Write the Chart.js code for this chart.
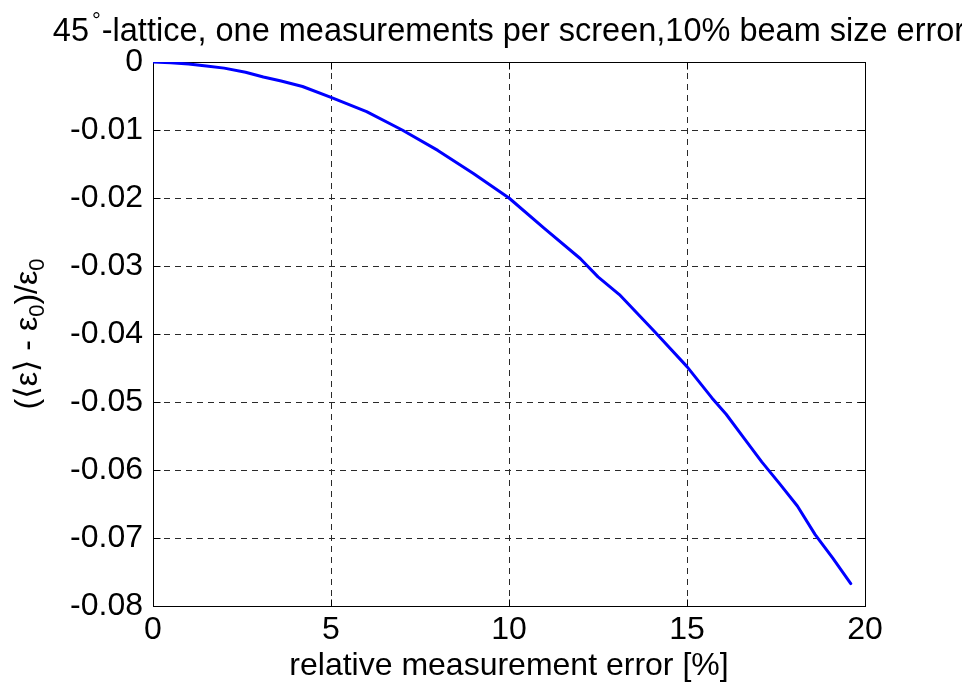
<!DOCTYPE html>
<html>
<head>
<meta charset="utf-8">
<script src="https://cdn.jsdelivr.net/npm/chart.js@4/dist/chart.umd.min.js"></script>
<style>
  html, body { margin: 0; padding: 0; background: #fff; }
  #wrap { width: 962px; height: 682px; }
</style>
</head>
<body>
<div id="wrap"><canvas id="plot" width="962" height="682"></canvas></div>
<script>
// Relative measurement error [%]
const errorPercent = [0, 0.5, 1, 1.5, 2, 2.6, 3.1, 3.6, 4.2, 5, 6, 7, 8, 9, 10, 11, 12, 12.5, 13.1, 14.1,
                      15, 15.7, 16.1, 16.6, 17.1, 17.6, 18.1, 18.6, 19.1, 19.6];
// Relative emittance bias (<eps> - eps0) / eps0
const emittanceBias = [0, -0.0001, -0.0003, -0.0006, -0.0009, -0.0015, -0.0022, -0.0028, -0.0036, -0.0052,
                       -0.0073, -0.0100, -0.0130, -0.0164, -0.0200, -0.0245, -0.0289, -0.0316, -0.0342, -0.0397,
                       -0.0448, -0.0494, -0.0518, -0.0553, -0.0588, -0.0620, -0.0653, -0.0695, -0.0730, -0.0767];

const xTicks = [0, 5, 10, 15, 20];
const xTickLabels = ['0', '5', '10', '15', '20'];
const yTicks = [0, -0.01, -0.02, -0.03, -0.04, -0.05, -0.06, -0.07, -0.08];
const yTickLabels = ['0', '-0.01', '-0.02', '-0.03', '-0.04', '-0.05', '-0.06', '-0.07', '-0.08'];

const titleParts = [
  { t: '45' },
  { t: '°', sup: true },
  { t: '-lattice, one measurements per screen,10% beam size error' }
];
const xLabelParts = [{ t: 'relative measurement error [%]' }];
const yLabelParts = [
  { t: '(⟨ε⟩ - ε' }, { t: '0', sub: true }, { t: ')/ε' }, { t: '0', sub: true }
];

const FONT = "'Liberation Sans', Arial, 'DejaVu Sans', sans-serif";
const FS = 32;        // tick and axis label size
const TITLE_FS = 32.5;

function partFont(p, size) {
  return (p.sup || p.sub) ? `${Math.round(size * 0.68)}px ${FONT}` : `${size}px ${FONT}`;
}
function richWidth(ctx, parts, size) {
  let w = 0;
  for (const p of parts) {
    ctx.font = partFont(p, size);
    w += ctx.measureText(p.t).width + (p.sup ? 4 : 0);
  }
  return w;
}
function drawRich(ctx, parts, cx, baseY, size) {
  let x = cx - richWidth(ctx, parts, size) / 2;
  ctx.textBaseline = 'alphabetic';
  ctx.textAlign = 'left';
  ctx.fillStyle = '#000';
  for (const p of parts) {
    ctx.font = partFont(p, size);
    let dy = 0;
    if (p.sup) { x += 3; dy = -13; }
    if (p.sub) { dy = 7; }
    ctx.fillText(p.t, x, baseY + dy);
    x += ctx.measureText(p.t).width + (p.sup ? 1 : 0);
  }
}

// Axes frame: dashed grid, solid box, inward ticks, title and axis labels
const framePlugin = {
  id: 'frame',
  beforeDatasetsDraw(chart) {
    const { ctx, chartArea: a, scales: { x, y } } = chart;
    ctx.save();
    ctx.strokeStyle = '#2a2a2a';
    ctx.lineWidth = 1;
    ctx.setLineDash([6, 5]);
    xTicks.forEach((v, i) => {
      if (i === 0 || i === xTicks.length - 1) return;
      const px = Math.round(x.getPixelForValue(v)) + 0.5;
      ctx.beginPath(); ctx.moveTo(px, a.top); ctx.lineTo(px, a.bottom); ctx.stroke();
    });
    yTicks.forEach((v, i) => {
      if (i === 0 || i === yTicks.length - 1) return;
      const py = Math.round(y.getPixelForValue(v)) + 0.5;
      ctx.beginPath(); ctx.moveTo(a.left, py); ctx.lineTo(a.right, py); ctx.stroke();
    });
    ctx.setLineDash([]);
    ctx.strokeStyle = '#000';
    const L = Math.round(a.left) + 0.5, R = Math.round(a.right) + 0.5;
    const T = Math.round(a.top) + 0.5, B = Math.round(a.bottom) + 0.5;
    ctx.strokeRect(L, T, R - L, B - T);
    const tl = 7;
    xTicks.forEach(v => {
      const px = Math.round(x.getPixelForValue(v)) + 0.5;
      ctx.beginPath();
      ctx.moveTo(px, B); ctx.lineTo(px, B - tl);
      ctx.moveTo(px, T); ctx.lineTo(px, T + tl);
      ctx.stroke();
    });
    yTicks.forEach(v => {
      const py = Math.round(y.getPixelForValue(v)) + 0.5;
      ctx.beginPath();
      ctx.moveTo(L, py); ctx.lineTo(L + tl, py);
      ctx.moveTo(R, py); ctx.lineTo(R - tl, py);
      ctx.stroke();
    });
    ctx.restore();
  },
  afterDraw(chart) {
    const { ctx, chartArea: a } = chart;
    const cx = (a.left + a.right) / 2;
    const cy = (a.top + a.bottom) / 2;
    ctx.save();
    drawRich(ctx, titleParts, cx, 41, TITLE_FS);
    drawRich(ctx, xLabelParts, cx, 675, FS);
    ctx.translate(37, cy);
    ctx.rotate(-Math.PI / 2);
    drawRich(ctx, yLabelParts, 0, 0, FS);
    ctx.restore();
  }
};

const points = errorPercent.map((v, i) => ({ x: v, y: emittanceBias[i] }));

new Chart(document.getElementById('plot'), {
  type: 'scatter',
  data: {
    datasets: [{
      data: points,
      showLine: true,
      borderColor: '#0000ff',
      backgroundColor: '#0000ff',
      borderWidth: 3,
      pointRadius: 0,
      tension: 0,
      borderJoinStyle: 'round',
      borderCapStyle: 'round'
    }]
  },
  options: {
    responsive: false,
    animation: false,
    devicePixelRatio: 1,
    layout: { padding: { top: 62, right: 97, left: 0, bottom: 0 } },
    plugins: { legend: { display: false }, tooltip: { enabled: false }, title: { display: false } },
    scales: {
      x: {
        type: 'linear',
        min: 0, max: 20,
        afterBuildTicks: s => { s.ticks = xTicks.map(v => ({ value: v })); },
        afterFit: s => { s.height = 76; },
        grid: { display: false, drawTicks: false },
        border: { display: false },
        ticks: {
          autoSkip: false, maxRotation: 0, padding: 5,
          color: '#000', font: { family: FONT, size: FS },
          callback: (v, i) => xTickLabels[i]
        }
      },
      y: {
        type: 'linear',
        min: -0.08, max: 0,
        afterBuildTicks: s => { s.ticks = yTicks.slice().reverse().map(v => ({ value: v })); },
        afterFit: s => { s.width = 153; },
        grid: { display: false, drawTicks: false },
        border: { display: false },
        ticks: {
          autoSkip: false, padding: 10,
          color: '#000', font: { family: FONT, size: FS },
          callback: (v, i) => yTickLabels[yTickLabels.length - 1 - i]
        }
      }
    }
  },
  plugins: [framePlugin]
});
</script>
</body>
</html>
